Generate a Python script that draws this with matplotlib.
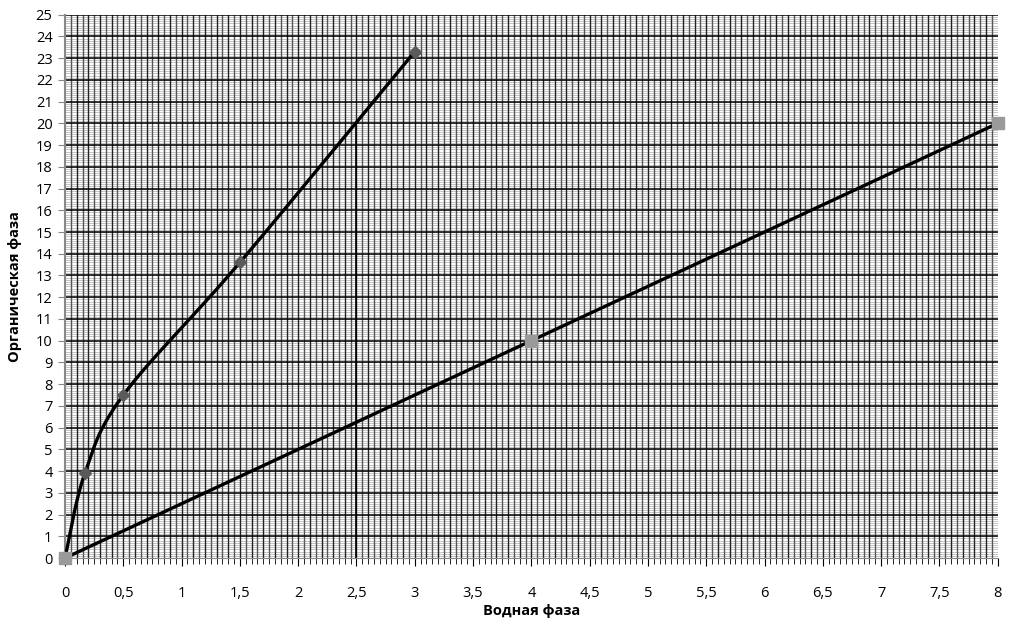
import numpy as np
import matplotlib
matplotlib.use("Agg")
from matplotlib import pyplot as plt

# data
curve_x = [0, 0.17, 0.5, 1.5, 3]
curve_y = [0, 3.9, 7.5, 13.6, 23.3]
line_x = [0, 4, 8]
line_y = [0, 10, 20]
drop_x = [2.5, 2.5]
drop_y = [0, 20]

x_ticks = np.arange(0, 8.01, 0.5)
x_labels = [f"{v:g}".replace(".", ",") for v in x_ticks]
y_ticks = np.arange(0, 26, 1)

plt.rcParams['font.family'] = ['Open Sans', 'DejaVu Sans']


def smooth(xs, ys, n=40):
    """Excel-like smoothed line: cubic Bezier with Catmull-Rom handles."""
    px = np.array(xs, dtype=float)
    py = np.array(ys, dtype=float)
    outx, outy = [], []
    t = np.linspace(0, 1, n)
    for i in range(len(px) - 1):
        p0 = (px[max(i - 1, 0)], py[max(i - 1, 0)])
        p1 = (px[i], py[i])
        p2 = (px[i + 1], py[i + 1])
        p3 = (px[min(i + 2, len(px) - 1)], py[min(i + 2, len(px) - 1)])
        c1 = (p1[0] + (p2[0] - p0[0]) / 6, p1[1] + (p2[1] - p0[1]) / 6)
        c2 = (p2[0] - (p3[0] - p1[0]) / 6, p2[1] - (p3[1] - p1[1]) / 6)
        for a, b in ((0, outx), (1, outy)):
            b.extend((1 - t) ** 3 * p1[a] + 3 * (1 - t) ** 2 * t * c1[a]
                     + 3 * (1 - t) * t ** 2 * c2[a] + t ** 3 * p2[a])
    return outx, outy


f = plt.figure(figsize=(10.16, 6.21), dpi=100)
ax = f.add_axes([0.064, 0.1014, 0.918, 0.875])
ax.set_xlim(0, 8)
ax.set_ylim(0, 25)

# millimetre-paper style grid
for yv in np.arange(0.1, 25, 0.1):
    ax.axhline(yv, color="#c4c4c4", lw=0.7, zorder=0)
for i, xv in enumerate(np.arange(0.05, 8, 0.05)):
    ax.axvline(xv, color="#222222" if i % 2 else "#555555", lw=1.0, zorder=1)
for yv in y_ticks[1:]:
    ax.axhline(yv, color="black", lw=1.1, zorder=1)

ax.plot(drop_x, drop_y, color="black", lw=1.2, zorder=2)

sx, sy = smooth(curve_x, curve_y)
ax.plot(sx, sy, color="black", lw=2.4, zorder=3, solid_capstyle="round")
ax.plot(curve_x, curve_y, ls="none", marker="D", ms=6.5, color="#5a5a5a",
        zorder=4, clip_on=False)
ax.plot(line_x, line_y, color="black", lw=2.4, zorder=3)
ax.plot(line_x, line_y, ls="none", marker="s", ms=9, color="#9a9a9a",
        zorder=4, clip_on=False)

ax.set_xticks(x_ticks)
ax.set_xticklabels(x_labels)
ax.set_xticks(np.arange(0, 8.01, 0.05), minor=True)
ax.set_yticks(y_ticks)
ax.tick_params(axis="x", which="major", direction="out", length=6,
               pad=14, labelsize=10.5, color="black")
ax.tick_params(axis="x", which="minor", direction="out", length=4,
               color="black")
ax.tick_params(axis="y", direction="out", length=5, labelsize=10.5,
               color="#888888", pad=4)
for s in ("top", "right"):
    ax.spines[s].set_visible(False)
ax.spines["left"].set_color("#888888")
ax.spines["bottom"].set_color("#888888")
ax.spines["left"].set_linewidth(1.5)

ax.set_xlabel("Водная фаза", fontsize=10.5, fontweight="bold", labelpad=2)
ax.set_ylabel("Органическая фаза", fontsize=10.5, fontweight="bold",
              labelpad=10)

f.savefig("out.png", dpi=100)
plt.close(f)
